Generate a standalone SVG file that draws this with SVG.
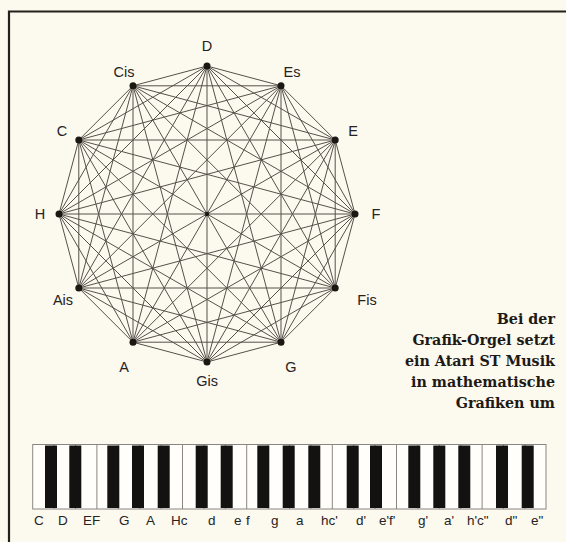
<svg xmlns="http://www.w3.org/2000/svg" width="566" height="542" viewBox="0 0 566 542">
<style>
.bg{fill:#fcf9ef}
.frame{stroke:#24201c;stroke-width:2.2;fill:none}
.edge{stroke:#57504a;stroke-width:1;fill:none}
.dot{fill:#1b1713}
.lbl{font-family:"Liberation Sans",Arial,sans-serif;font-size:14.5px;fill:#26221e;text-anchor:middle}
.cap{font-family:"DejaVu Serif",serif;font-weight:bold;font-size:14.3px;fill:#1d1a16;text-anchor:end}
.wk{fill:#fffefb;stroke:#8a8580;stroke-width:1}
.bk{fill:#141210}
.kl{font-family:"Liberation Sans",Arial,sans-serif;font-size:13.5px;fill:#26221e}
</style>
<rect class="bg" x="0" y="0" width="566" height="542"/>
<path class="frame" d="M9,542 V11.5 H566"/>

<g id="connectors">
<path class="edge" d="M207,66L281,85.8M207,66L335.2,140M207,66L355,214M207,66L335.2,288M207,66L281,342.2M207,66L207,362M207,66L133,342.2M207,66L78.8,288M207,66L59,214M207,66L78.8,140M207,66L133,85.8"/>
<path class="edge" d="M281,85.8L335.2,140M281,85.8L355,214M281,85.8L335.2,288M281,85.8L281,342.2M281,85.8L207,362M281,85.8L133,342.2M281,85.8L78.8,288M281,85.8L59,214M281,85.8L78.8,140M281,85.8L133,85.8"/>
<path class="edge" d="M335.2,140L355,214M335.2,140L335.2,288M335.2,140L281,342.2M335.2,140L207,362M335.2,140L133,342.2M335.2,140L78.8,288M335.2,140L59,214M335.2,140L78.8,140M335.2,140L133,85.8"/>
<path class="edge" d="M355,214L335.2,288M355,214L281,342.2M355,214L207,362M355,214L133,342.2M355,214L78.8,288M355,214L59,214M355,214L78.8,140M355,214L133,85.8"/>
<path class="edge" d="M335.2,288L281,342.2M335.2,288L207,362M335.2,288L133,342.2M335.2,288L78.8,288M335.2,288L59,214M335.2,288L78.8,140M335.2,288L133,85.8"/>
<path class="edge" d="M281,342.2L207,362M281,342.2L133,342.2M281,342.2L78.8,288M281,342.2L59,214M281,342.2L78.8,140M281,342.2L133,85.8"/>
<path class="edge" d="M207,362L133,342.2M207,362L78.8,288M207,362L59,214M207,362L78.8,140M207,362L133,85.8"/>
<path class="edge" d="M133,342.2L78.8,288M133,342.2L59,214M133,342.2L78.8,140M133,342.2L133,85.8"/>
<path class="edge" d="M78.8,288L59,214M78.8,288L78.8,140M78.8,288L133,85.8"/>
<path class="edge" d="M59,214L78.8,140M59,214L133,85.8"/>
<path class="edge" d="M78.8,140L133,85.8"/>
<circle class="dot" cx="207" cy="214" r="2.2"/>
</g>

<g id="node-D"><circle class="dot" cx="207" cy="66" r="3.5"/><text class="lbl" x="207" y="51">D</text></g>
<g id="node-Es"><circle class="dot" cx="281" cy="85.8" r="3.5"/><text class="lbl" x="292" y="77">Es</text></g>
<g id="node-E"><circle class="dot" cx="335.2" cy="140" r="3.5"/><text class="lbl" x="353" y="136">E</text></g>
<g id="node-F"><circle class="dot" cx="355" cy="214" r="3.5"/><text class="lbl" x="376" y="219">F</text></g>
<g id="node-Fis"><circle class="dot" cx="335.2" cy="288" r="3.5"/><text class="lbl" x="367" y="305">Fis</text></g>
<g id="node-G"><circle class="dot" cx="281" cy="342.2" r="3.5"/><text class="lbl" x="291" y="372">G</text></g>
<g id="node-Gis"><circle class="dot" cx="207" cy="362" r="3.5"/><text class="lbl" x="207" y="386">Gis</text></g>
<g id="node-A"><circle class="dot" cx="133" cy="342.2" r="3.5"/><text class="lbl" x="124" y="372">A</text></g>
<g id="node-Ais"><circle class="dot" cx="78.8" cy="288" r="3.5"/><text class="lbl" x="63" y="305">Ais</text></g>
<g id="node-H"><circle class="dot" cx="59" cy="214" r="3.5"/><text class="lbl" x="40" y="219">H</text></g>
<g id="node-C"><circle class="dot" cx="78.8" cy="140" r="3.5"/><text class="lbl" x="62" y="136">C</text></g>
<g id="node-Cis"><circle class="dot" cx="133" cy="85.8" r="3.5"/><text class="lbl" x="124" y="77">Cis</text></g>

<g id="caption">
<text class="cap" x="555" y="324">Bei der</text>
<text class="cap" x="555" y="345">Grafik-Orgel setzt</text>
<text class="cap" x="555" y="366">ein Atari ST Musik</text>
<text class="cap" x="555" y="387">in mathematische</text>
<text class="cap" x="555" y="408">Grafiken um</text>
</g>

<g id="keyboard">
<rect class="wk" x="32.7" y="444.5" width="513.3" height="64.5"/>
<path class="wk" d="M54.1,444.5V509M75.5,444.5V509M96.9,444.5V509M118.3,444.5V509M139.7,444.5V509M161.1,444.5V509M182.5,444.5V509M203.9,444.5V509M225.3,444.5V509M246.7,444.5V509M268.1,444.5V509M289.5,444.5V509M310.9,444.5V509M332.3,444.5V509M353.7,444.5V509M375.1,444.5V509M396.5,444.5V509M417.9,444.5V509M439.3,444.5V509M460.7,444.5V509M482.1,444.5V509M503.5,444.5V509M524.9,444.5V509"/>
<rect class="bk" x="45" y="445.5" width="12" height="62.5"/>
<rect class="bk" x="69.3" y="445.5" width="12" height="62.5"/>
<rect class="bk" x="107.3" y="445.5" width="12" height="62.5"/>
<rect class="bk" x="132" y="445.5" width="12" height="62.5"/>
<rect class="bk" x="157.7" y="445.5" width="12" height="62.5"/>
<rect class="bk" x="195.7" y="445.5" width="12" height="62.5"/>
<rect class="bk" x="220.7" y="445.5" width="12" height="62.5"/>
<rect class="bk" x="257.3" y="445.5" width="12" height="62.5"/>
<rect class="bk" x="282.7" y="445.5" width="12" height="62.5"/>
<rect class="bk" x="308.3" y="445.5" width="12" height="62.5"/>
<rect class="bk" x="346.7" y="445.5" width="12" height="62.5"/>
<rect class="bk" x="370" y="445.5" width="12" height="62.5"/>
<rect class="bk" x="408.3" y="445.5" width="12" height="62.5"/>
<rect class="bk" x="433.3" y="445.5" width="12" height="62.5"/>
<rect class="bk" x="458.3" y="445.5" width="12" height="62.5"/>
<rect class="bk" x="496" y="445.5" width="12" height="62.5"/>
<rect class="bk" x="521.7" y="445.5" width="12" height="62.5"/>
</g>

<g id="key-labels">
<text class="kl" x="34" y="525">C</text>
<text class="kl" x="58" y="525">D</text>
<text class="kl" x="83" y="525">EF</text>
<text class="kl" x="119" y="525">G</text>
<text class="kl" x="146" y="525">A</text>
<text class="kl" x="171" y="525">Hc</text>
<text class="kl" x="208" y="525">d</text>
<text class="kl" x="234" y="525">e</text>
<text class="kl" x="246" y="525">f</text>
<text class="kl" x="271" y="525">g</text>
<text class="kl" x="296" y="525">a</text>
<text class="kl" x="321" y="525">hc'</text>
<text class="kl" x="356" y="525">d'</text>
<text class="kl" x="379" y="525">e'f'</text>
<text class="kl" x="418" y="525">g'</text>
<text class="kl" x="444" y="525">a'</text>
<text class="kl" x="467" y="525">h'c"</text>
<text class="kl" x="505" y="525">d"</text>
<text class="kl" x="531" y="525">e"</text>
</g>
</svg>
